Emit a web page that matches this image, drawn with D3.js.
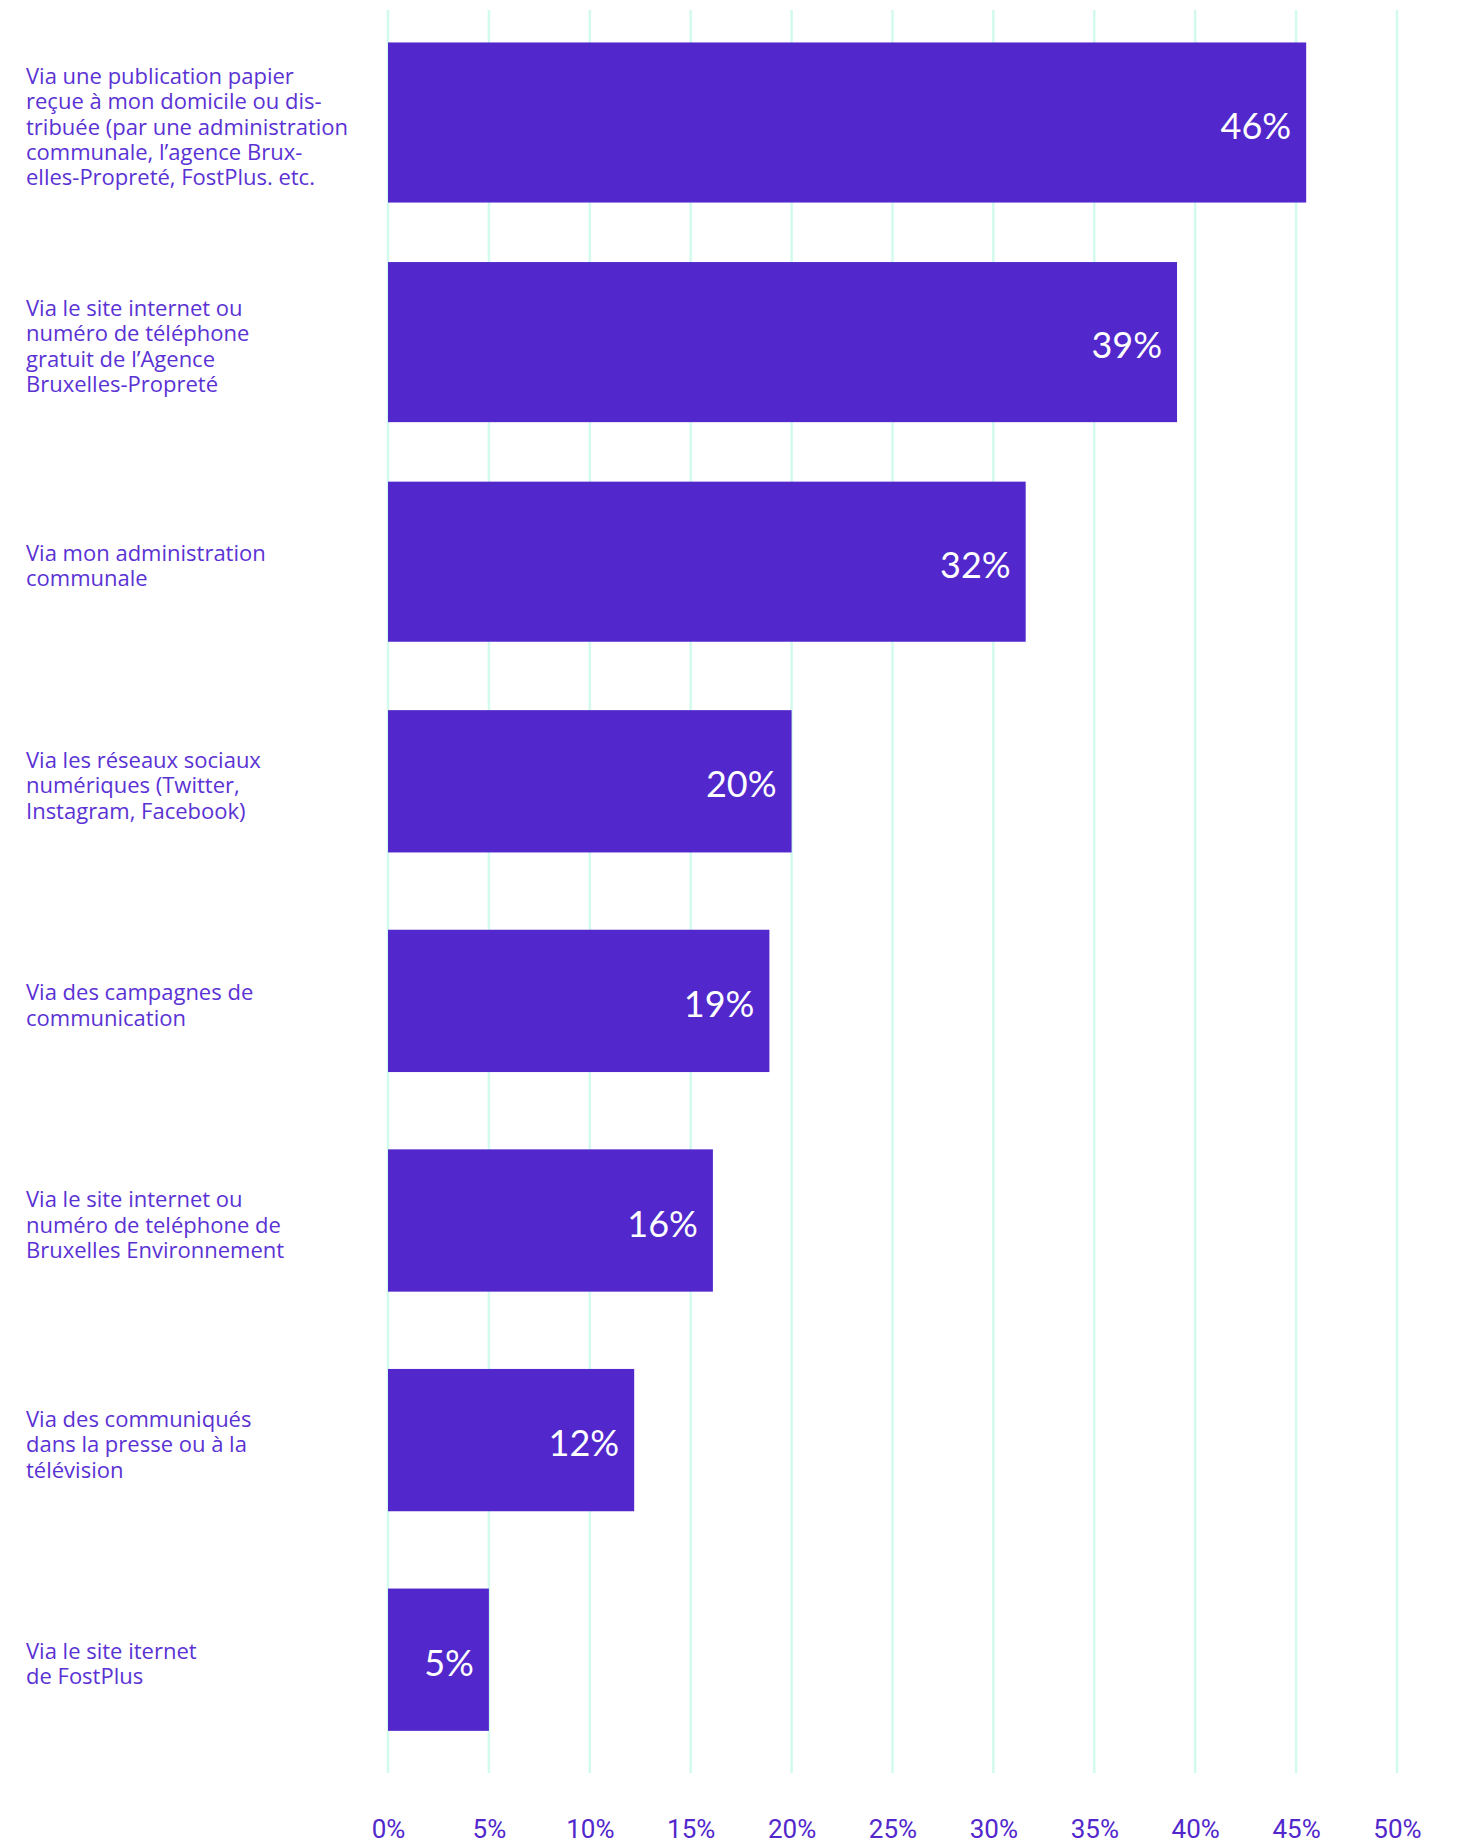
<!DOCTYPE html>
<html>
<head>
<meta charset="utf-8">
<script src="https://cdn.jsdelivr.net/npm/d3@7"></script>
<style>
  html, body { margin: 0; padding: 0; background: #ffffff; }
  svg { display: block; }
</style>
</head>
<body>
<svg id="chart" width="1459" height="1844"></svg>
<script>
const categories = [
  ["Via une publication papier", "reçue à mon domicile ou dis-", "tribuée (par une administration", "communale, l’agence Brux-", "elles-Propreté, FostPlus. etc."],
  ["Via le site internet ou", "numéro de téléphone", "gratuit de l’Agence", "Bruxelles-Propreté"],
  ["Via mon administration", "communale"],
  ["Via les réseaux sociaux", "numériques (Twitter,", "Instagram, Facebook)"],
  ["Via des campagnes de", "communication"],
  ["Via le site internet ou", "numéro de teléphone de", "Bruxelles Environnement"],
  ["Via des communiqués", "dans la presse ou à la", "télévision"],
  ["Via le site iternet", "de FostPlus"]
];
const values = [45.5, 39.1, 31.6, 20, 18.9, 16.1, 12.2, 5];
const valueLabels = ["46%", "39%", "32%", "20%", "19%", "16%", "12%", "5%"];
const tickValues = [0, 5, 10, 15, 20, 25, 30, 35, 40, 45, 50];
const tickLabels = ["0%", "5%", "10%", "15%", "20%", "25%", "30%", "35%", "40%", "45%", "50%"];

const BAR = "#5227cc";
const TEXT = "#5a32d4";
const GRID = "#d3fbec";

const svg = d3.select("#chart");
const keys = categories.map((c, i) => "c" + i);

const x = d3.scaleLinear().domain([0, 50]).range([388, 1397]);
const y = d3.scaleBand().domain(keys).range([12.7, 12.7 + 8 * 219.6]).padding(0);

// gridlines
svg.append("g").selectAll("line").data(tickValues).join("line")
  .attr("x1", d => x(d)).attr("x2", d => x(d))
  .attr("y1", 10).attr("y2", 1773)
  .attr("stroke", GRID).attr("stroke-width", 2.5);

// bars
const thick = i => i < 3 ? 0.729 : 0.648;
svg.append("g").selectAll("rect").data(values).join("rect")
  .attr("x", x(0))
  .attr("width", d => x(d) - x(0))
  .attr("y", (d, i) => y(keys[i]) + y.bandwidth() / 2 - y.bandwidth() * thick(i) / 2)
  .attr("height", (d, i) => y.bandwidth() * thick(i))
  .attr("fill", BAR);

// value labels
svg.append("g").selectAll("text").data(values).join("text")
  .attr("x", d => x(d) - 15)
  .attr("y", (d, i) => y(keys[i]) + y.bandwidth() / 2 + 16)
  .attr("text-anchor", "end")
  .attr("fill", "#ffffff")
  .attr("font-family", "Lato, 'Open Sans', sans-serif")
  .attr("font-size", 36)
  .text((d, i) => valueLabels[i]);

// category labels
const lh = 25.4;
categories.forEach((lines, i) => {
  const cy = y(keys[i]) + y.bandwidth() / 2;
  const t = svg.append("text")
    .attr("fill", TEXT)
    .attr("font-family", "'Open Sans', Lato, sans-serif")
    .attr("font-size", 22);
  lines.forEach((ln, j) => {
    t.append("tspan")
      .attr("x", 26)
      .attr("y", cy + 12 + (j - (lines.length - 1) / 2) * lh)
      .text(ln);
  });
});

// x axis tick labels
const axisG = svg.append("g").attr("transform", "translate(0,1838)");
const axis = d3.axisBottom(x).tickValues(tickValues).tickFormat((d, i) => tickLabels[i]).tickSize(0).tickPadding(0);
axisG.call(axis);
axisG.select(".domain").remove();
axisG.selectAll(".tick text")
  .attr("y", 0).attr("dy", 0)
  .attr("fill", BAR)
  .attr("font-family", "Roboto, sans-serif")
  .attr("font-size", 26)
  .attr("text-anchor", "middle");
</script>
</body>
</html>
